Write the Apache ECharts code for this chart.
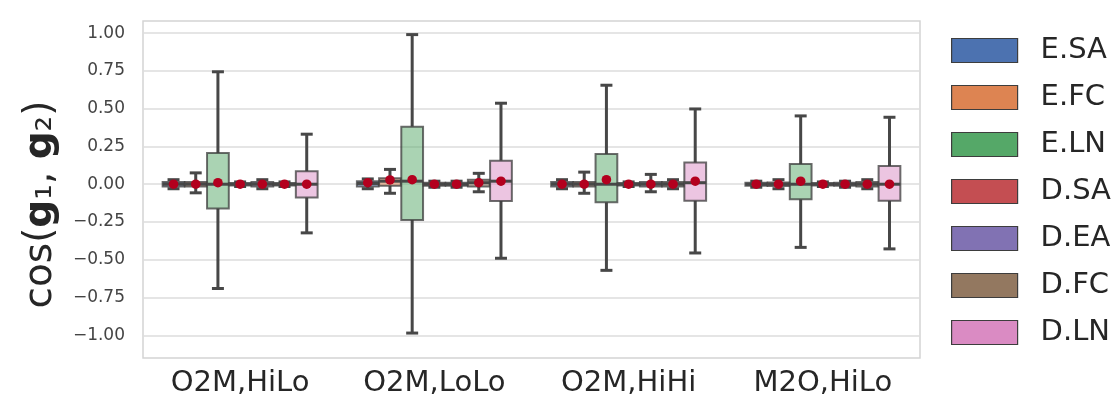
<!DOCTYPE html>
<html>
<head>
<meta charset="utf-8">
<script src="https://cdn.jsdelivr.net/npm/echarts@6/dist/echarts.min.js"></script>
<style>
  html, body { margin: 0; padding: 0; background: #fff; }
  #chart { width: 1120px; height: 406px; }
</style>
</head>
<body>
<div id="chart"></div>
<script>
// categories on the x axis and the hue groups
const categories = ['O2M,HiLo', 'O2M,LoLo', 'O2M,HiHi', 'M2O,HiLo'];
const methods = ['E.SA', 'E.FC', 'E.LN', 'D.SA', 'D.EA', 'D.FC', 'D.LN'];
const yTicks = [-1, -0.75, -0.5, -0.25, 0, 0.25, 0.5, 0.75, 1];

// per method, per category: [lower whisker, q1, median, q3, upper whisker, mean]
const eSA = [[-0.03, -0.015, 0, 0.015, 0.03, 0], [-0.03, -0.015, 0.005, 0.02, 0.035, 0.01], [-0.03, -0.015, 0, 0.015, 0.03, 0], [-0.02, -0.01, 0, 0.01, 0.02, 0]];
const eFC = [[-0.057, -0.015, 0, 0.015, 0.075, 0], [-0.06, -0.01, 0.02, 0.04, 0.098, 0.028], [-0.06, -0.015, 0, 0.015, 0.08, 0], [-0.03, -0.012, 0, 0.012, 0.03, 0]];
const eLN = [[-0.69, -0.161, 0, 0.207, 0.744, 0.01], [-0.985, -0.237, 0.02, 0.381, 0.99, 0.03], [-0.57, -0.12, 0, 0.2, 0.655, 0.03], [-0.418, -0.1, 0, 0.134, 0.452, 0.02]];
const dSA = [[-0.015, -0.008, 0, 0.008, 0.015, 0], [-0.02, -0.01, 0, 0.01, 0.02, 0], [-0.015, -0.008, 0, 0.008, 0.015, 0], [-0.015, -0.008, 0, 0.008, 0.015, 0]];
const dEA = [[-0.03, -0.015, 0, 0.015, 0.03, 0], [-0.02, -0.01, 0, 0.01, 0.02, 0], [-0.05, -0.015, 0, 0.015, 0.065, 0], [-0.02, -0.01, 0, 0.01, 0.02, 0]];
const dFC = [[-0.015, -0.008, 0, 0.008, 0.015, 0], [-0.05, -0.015, 0.01, 0.03, 0.072, 0.01], [-0.03, -0.015, 0, 0.015, 0.03, 0], [-0.03, -0.015, 0, 0.015, 0.03, 0]];
const dLN = [[-0.322, -0.088, 0, 0.086, 0.331, 0], [-0.49, -0.111, 0.02, 0.156, 0.536, 0.02], [-0.455, -0.11, 0.01, 0.143, 0.498, 0.02], [-0.428, -0.11, 0, 0.12, 0.443, 0]];
const stats = [eSA, eFC, eLN, dSA, dEA, dFC, dLN];

// seaborn "deep" palette
const palette = ['#4c72b0', '#dd8452', '#55a868', '#c44e52', '#8172b3', '#937860', '#da8bc3'];

function hexA(hex, a) {
  const n = parseInt(hex.slice(1), 16);
  return 'rgba(' + (n >> 16) + ',' + ((n >> 8) & 255) + ',' + (n & 255) + ',' + a + ')';
}

const dark = '#474747';

function boxRender(h) {
  return function (params, api) {
    const cat = api.value(0);
    const band = api.size([1, 0])[0];
    const slot = band * 0.8 / methods.length;
    const cx = api.coord([cat, 0])[0] + (h - (methods.length - 1) / 2) * slot;
    const y = v => api.coord([cat, v])[1];
    const lo = y(api.value(1)), b1 = y(api.value(2)), md = y(api.value(3)), b3 = y(api.value(4)), hi = y(api.value(5));
    const bw = slot * 0.98, cap = slot * 0.27;
    return {
      type: 'group',
      children: [
        { type: 'line', shape: { x1: cx, y1: hi, x2: cx, y2: b3 }, style: { stroke: dark, lineWidth: 3 } },
        { type: 'line', shape: { x1: cx, y1: b1, x2: cx, y2: lo }, style: { stroke: dark, lineWidth: 3 } },
        { type: 'line', shape: { x1: cx - cap, y1: hi, x2: cx + cap, y2: hi }, style: { stroke: dark, lineWidth: 3 } },
        { type: 'line', shape: { x1: cx - cap, y1: lo, x2: cx + cap, y2: lo }, style: { stroke: dark, lineWidth: 3 } },
        { type: 'rect', shape: { x: cx - bw / 2, y: b3, width: bw, height: b1 - b3 },
          style: { fill: hexA(palette[h], 0.5), stroke: 'rgba(60,60,60,0.75)', lineWidth: 2 } },
        { type: 'line', shape: { x1: cx - bw / 2, y1: md, x2: cx + bw / 2, y2: md }, style: { stroke: dark, lineWidth: 3 } }
      ]
    };
  };
}

const meanData = [];
stats.forEach((s, h) => s.forEach((r, i) => meanData.push([i, h, r[5]])));

const series = methods.map((m, h) => ({
  name: m,
  type: 'custom',
  renderItem: boxRender(h),
  itemStyle: { color: palette[h] },
  encode: { x: 0, y: [1, 2, 3, 4, 5] },
  data: stats[h].map((r, i) => [i, r[0], r[1], r[2], r[3], r[4]]),
  z: 2
}));

series.push({
  name: 'mean',
  type: 'custom',
  z: 5,
  encode: { x: 0, y: 2 },
  renderItem: function (params, api) {
    const cat = api.value(0);
    const h = api.value(1);
    const band = api.size([1, 0])[0];
    const slot = band * 0.8 / methods.length;
    const p = api.coord([cat, api.value(2)]);
    return {
      type: 'circle',
      shape: { cx: p[0] + (h - (methods.length - 1) / 2) * slot, cy: p[1], r: 4.8 },
      style: { fill: '#b3001e' }
    };
  },
  data: meanData
});

const chart = echarts.init(document.getElementById('chart'));
chart.setOption({
  animation: false,
  textStyle: { fontFamily: 'DejaVu Sans' },
  grid: {
    left: 143, right: 200, top: 21, bottom: 48,
    show: true, borderColor: '#d4d4d4', borderWidth: 1.5
  },
  legend: {
    data: methods,
    orient: 'vertical',
    left: 946,
    top: 31,
    icon: 'rect',
    itemWidth: 66,
    itemHeight: 24,
    itemGap: 18,
    itemStyle: { borderColor: '#3d3d3d', borderWidth: 1.2 },
    textStyle: { fontSize: 29, color: '#262626', padding: [0, 0, 0, 18] }
  },
  xAxis: {
    type: 'category',
    data: categories,
    axisLine: { show: false },
    axisTick: { show: false },
    splitLine: { show: false },
    axisLabel: { fontSize: 29, color: '#262626', margin: 11 }
  },
  yAxis: {
    type: 'value',
    min: -1.15,
    max: 1.08,
    name: '{n|cos(}{b|g}{n|₁, }{b|g}{n|₂)}',
    nameLocation: 'middle',
    nameGap: 83,
    nameTextStyle: {
      padding: [0, 30, 0, 0],
      rich: {
        n: { fontSize: 39, color: '#262626', fontFamily: 'DejaVu Sans' },
        b: { fontSize: 39, color: '#262626', fontWeight: 'bold', fontFamily: 'DejaVu Sans' }
      }
    },
    axisLine: { show: false },
    axisTick: { show: false, customValues: yTicks },
    splitLine: { show: true, lineStyle: { color: '#dcdcdc', width: 1.5 } },
    axisLabel: {
      customValues: yTicks,
      fontSize: 17,
      color: '#444',
      margin: 18,
      formatter: v => (v < 0 ? '\u2212' : '') + Math.abs(v).toFixed(2)
    }
  },
  series: series
});
</script>
</body>
</html>
